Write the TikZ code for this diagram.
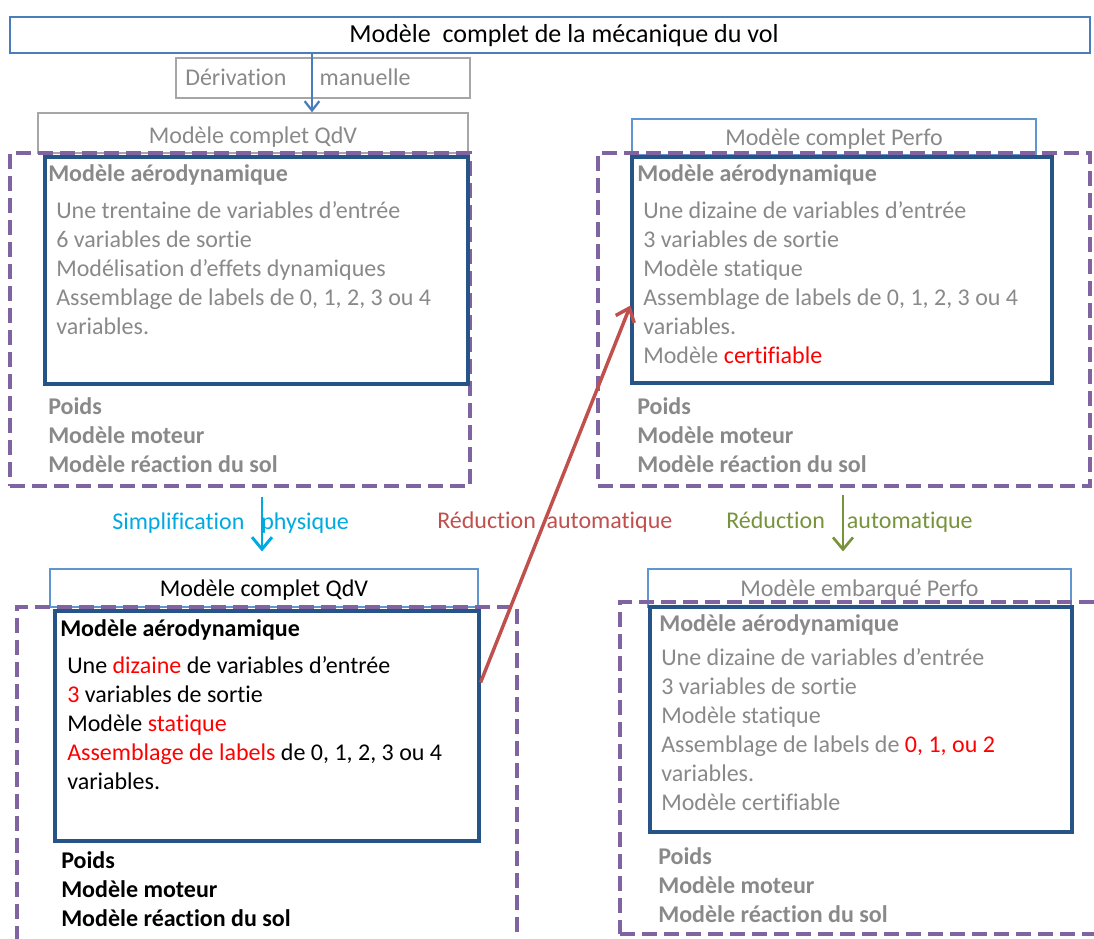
\documentclass[tikz,border=0pt]{standalone}
\usepackage{fontspec}
\setmainfont{Carlito}[Ligatures=CommonOff]
\usetikzlibrary{arrows.meta,calc}
\definecolor{txtgray}{RGB}{137,137,137}
\definecolor{boxgray}{RGB}{166,166,166}
\definecolor{topblue}{RGB}{74,126,187}
\definecolor{lightblue}{RGB}{96,150,208}
\definecolor{darkblue}{RGB}{38,84,134}
\definecolor{dashpurple}{RGB}{128,100,162}
\definecolor{simpcyan}{RGB}{0,169,224}
\definecolor{redflow}{RGB}{192,80,77}
\definecolor{greenflow}{RGB}{119,147,60}
\definecolor{hlred}{RGB}{255,0,0}
\tikzset{
  txt/.style={font=\fontsize{18pt}{21.75pt}\selectfont, inner sep=0pt, align=left},
  txtb/.style={font=\fontsize{18pt}{21.75pt}\selectfont\bfseries, inner sep=0pt, align=left},
  headbox/.style={draw=topblue, line width=0.9pt, inner sep=0pt},
  lbluebox/.style={draw=lightblue, line width=0.8pt, inner sep=0pt},
  graybox/.style={draw=boxgray, line width=1pt, inner sep=0pt},
  aerobox/.style={draw=darkblue, line width=2.4pt, inner sep=0pt},
  groupbox/.style={draw=dashpurple, line width=2.5pt, dash pattern=on 11pt off 5.5pt, inner sep=0pt},
  flowtop/.style={-{Straight Barb[length=7pt, width=11pt]}, draw=topblue, line width=1.7pt},
  flowsimp/.style={-{Straight Barb[length=9pt, width=15pt]}, draw=simpcyan, line width=2.2pt},
  flowred/.style={-{Straight Barb[length=9pt, width=15pt]}, draw=redflow, line width=2.6pt},
  flowgreen/.style={-{Straight Barb[length=9pt, width=15pt]}, draw=greenflow, line width=2pt}
}
\newcommand{\hl}[1]{\textcolor{hlred}{#1}}
\begin{document}
\begin{tikzpicture}[x=0.75pt, y=-0.75pt]
\useasboundingbox (0,0) rectangle (1094,938);
\clip (0,0) rectangle (1094,938);

% modele de depart (multi-line nodes: base = last line)
\node[headbox, minimum width=810pt, minimum height=27pt] (mecavol) at (550,35) {};
\node[txt, font=\fontsize{19.5pt}{23pt}\selectfont, anchor=base] (mecavoltxt) at (564,43) {Modèle\ \ complet de la mécanique du vol};
\node[graybox, minimum width=220.5pt, minimum height=30pt] (deriv) at (323,78) {};
\node[txt, text=txtgray, anchor=base west] (derivtxt) at (185,86) {Dérivation\hspace{25pt}manuelle};

% QdV complet
\node[graybox, minimum width=322.5pt, minimum height=30pt] (qdvhead) at (253,133) {};
\node[txt, text=txtgray, anchor=base] (qdvheadtxt) at (253,143) {Modèle complet QdV};
\node[groupbox, minimum width=345pt, minimum height=249.75pt] (qdvgroup) at (240,319.5) {};
\node[aerobox, minimum width=317.25pt, minimum height=170.25pt] (qdvaero) at (256.5,270.5) {};
\node[txtb, text=txtgray, anchor=base west] (qdvaerot) at (48,181) {Modèle aérodynamique};
\node[txt, text=txtgray, anchor=base west] (qdvaerol) at (56,334) {Une trentaine de variables d’entrée\\
  6 variables de sortie\\
  Modélisation d’effets dynamiques\\
  Assemblage de labels de 0, 1, 2, 3 ou 4\\
  variables.};
\node[txtb, text=txtgray, anchor=base west] (qdvautres) at (48,472) {Poids\\Modèle moteur\\Modèle réaction du sol};

% Perfo complet
\node[lbluebox, minimum width=303pt, minimum height=27pt] (perfohead) at (834,137) {};
\node[txt, text=txtgray, anchor=base] (perfoheadtxt) at (834,146) {Modèle complet Perfo};
\node[groupbox, minimum width=369pt, minimum height=249.75pt] (perfogroup) at (844,319.5) {};
\node[aerobox, minimum width=315pt, minimum height=169.5pt] (perfoaero) at (842,270) {};
\node[txtb, text=txtgray, anchor=base west] (perfoaerot) at (637,181) {Modèle aérodynamique};
\node[txt, text=txtgray, anchor=base west] (perfoaerol) at (643,363) {Une dizaine de variables d’entrée\\
  3 variables de sortie\\
  Modèle statique\\
  Assemblage de labels de 0, 1, 2, 3 ou 4\\
  variables.\\
  Modèle \hl{certifiable}};
\node[txtb, text=txtgray, anchor=base west] (perfoautres) at (637,472) {Poids\\Modèle moteur\\Modèle réaction du sol};

% QdV simplifie
\node[lbluebox, minimum width=321pt, minimum height=28.5pt] (qdvredhead) at (264,588) {};
\node[txt, anchor=base] (qdvredheadtxt) at (264,596) {Modèle complet QdV};
\node[groupbox, minimum width=375pt, minimum height=264.75pt] (qdvredgroup) at (267,783.5) {};
\node[aerobox, minimum width=318pt, minimum height=172.5pt] (qdvredaero) at (267,726) {};
\node[txtb, anchor=base west] (qdvredaerot) at (60,636) {Modèle aérodynamique};
\node[txt, anchor=base west] (qdvredaerol) at (67,789) {Une \hl{dizaine} de variables d’entrée\\
  \hl{3} variables de sortie\\
  Modèle \hl{statique}\\
  \hl{Assemblage de labels} de 0, 1, 2, 3 ou 4\\
  variables.};
\node[txtb, anchor=base west] (qdvredautres) at (61,926) {Poids\\Modèle moteur\\Modèle réaction du sol};

% Perfo embarque
\node[lbluebox, minimum width=317.25pt, minimum height=28.5pt] (embhead) at (859.5,588) {};
\node[txt, text=txtgray, anchor=base] (embheadtxt) at (859.5,596) {Modèle embarqué Perfo};
\node[groupbox, minimum width=375pt, minimum height=249pt] (embgroup) at (870,768) {};
\node[aerobox, minimum width=316.5pt, minimum height=168.75pt] (embaero) at (861,719.5) {};
\node[txtb, text=txtgray, anchor=base west] (embaerot) at (659,631) {Modèle aérodynamique};
\node[txt, text=txtgray, anchor=base west] (embaerol) at (661,810) {Une dizaine de variables d’entrée\\
  3 variables de sortie\\
  Modèle statique\\
  Assemblage de labels de \hl{0, 1, ou 2}\\
  variables.\\
  Modèle certifiable};
\node[txtb, text=txtgray, anchor=base west] (embautres) at (658,922) {Poids\\Modèle moteur\\Modèle réaction du sol};

% transformations
\coordinate (derivx) at (312,0);
\coordinate (simpx) at (262,0);
\coordinate (embx) at (843,0);
\draw[flowtop] (mecavol.south -| derivx) -- (qdvhead.north -| derivx);
\draw[flowsimp] ([yshift=-6.75pt]qdvgroup.south -| simpx) -- ([yshift=12.75pt]qdvredhead.north -| simpx);
\draw[flowgreen] ([yshift=-5.25pt]perfogroup.south -| embx) -- ([yshift=12.75pt]embhead.north -| embx);
\draw[flowred] ($(qdvredaero.north east)!0.313!(qdvredaero.south east)$) -- ($(perfoaero.north west)!0.655!(perfoaero.south west)$);
\node[txt, text=simpcyan, anchor=base west] (simptxt) at (112,529) {Simplification\hspace{12.75pt}physique};
\node[txt, text=redflow, anchor=base west] (redtxt) at (437,528) {Réduction\hspace{8pt}automatique};
\node[txt, text=greenflow, anchor=base west] (embtxt) at (726,528) {Réduction\hspace{16.5pt}automatique};
\end{tikzpicture}
\end{document}
